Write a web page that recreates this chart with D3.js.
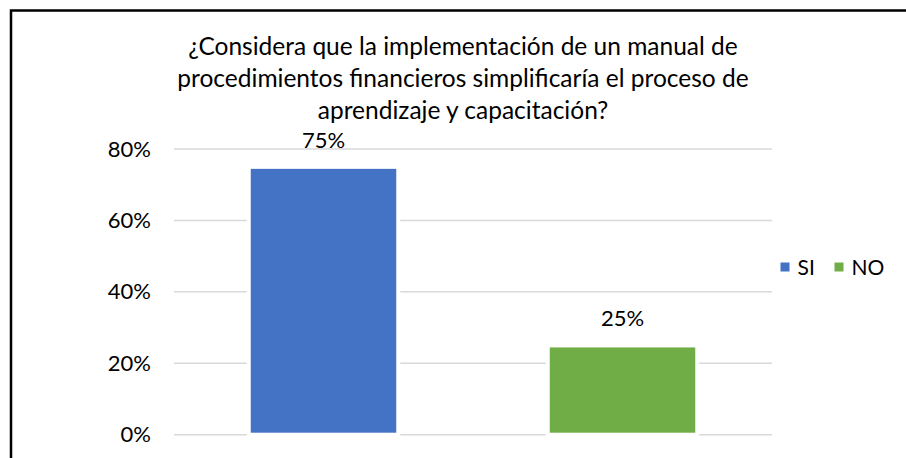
<!DOCTYPE html>
<html>
<head>
<meta charset="utf-8">
<script src="https://cdn.jsdelivr.net/npm/d3@7"></script>
<style>
  body { margin: 0; background: #fff; }
  text { font-family: Lato, "Open Sans", sans-serif; fill: #000; }
</style>
</head>
<body>
<div class="chart-canvas"></div>
<script>
// chart data
const categories = ['SI', 'NO'];
const values = [0.75, 0.25];
const colors = ['#4472C4', '#70AD47'];
const yTicks = [0, 0.2, 0.4, 0.6, 0.8];
const titleLines = [
    '¿Considera que la implementación de un manual de',
    'procedimientos financieros simplificaría el proceso de',
    'aprendizaje y capacitación?'
];

//dimensions
const dims = { width: 906, height: 458 };
const plot = { left: 174, right: 772, top: 149, bottom: 434.7 };

const svg = d3.select('.chart-canvas')
    .append('svg')
    .attr('width', dims.width)
    .attr('height', dims.height);

// outer frame
svg.append('rect')
    .attr('x', 11).attr('y', 10.5)
    .attr('width', 910).attr('height', 470)
    .attr('fill', '#fff')
    .attr('stroke', '#000')
    .attr('stroke-width', 2.5);

// title
svg.append('g')
    .selectAll('text')
    .data(titleLines)
    .enter()
    .append('text')
        .attr('x', 463)
        .attr('y', (d, i) => 55 + i * 32)
        .attr('text-anchor', 'middle')
        .attr('font-size', 24.5)
        .text(d => d);

// scales
const x = d3.scaleBand()
    .domain(categories)
    .range([plot.left, plot.right])
    .paddingInner(0.5)
    .paddingOuter(0.25);

const y = d3.scaleLinear()
    .domain([0, 0.8])
    .range([plot.bottom, plot.top]);

const fmt = d3.format('.0%');

// gridlines
svg.append('g')
    .selectAll('line')
    .data(yTicks)
    .enter()
    .append('line')
        .attr('x1', plot.left).attr('x2', plot.right)
        .attr('y1', d => y(d)).attr('y2', d => y(d))
        .attr('stroke', '#d9d9d9')
        .attr('stroke-width', 1.5);

// y axis labels
svg.append('g')
    .selectAll('text')
    .data(yTicks)
    .enter()
    .append('text')
        .attr('x', 151)
        .attr('y', d => y(d) + 7.5)
        .attr('text-anchor', 'end')
        .attr('font-size', 22)
        .text(d => fmt(d));

// bars
const data = categories.map((c, i) => ({ name: c, value: values[i], color: colors[i] }));

svg.append('g')
    .selectAll('rect')
    .data(data)
    .enter()
    .append('rect')
        .attr('x', d => x(d.name))
        .attr('y', d => y(d.value))
        .attr('width', x.bandwidth())
        .attr('height', d => y(0) - y(d.value))
        .attr('fill', d => d.color)
        .attr('stroke', '#fff')
        .attr('stroke-width', 4);

// value labels
svg.append('g')
    .selectAll('text')
    .data(data)
    .enter()
    .append('text')
        .attr('x', d => x(d.name) + x.bandwidth() / 2)
        .attr('y', d => y(d.value) - 19)
        .attr('text-anchor', 'middle')
        .attr('font-size', 22)
        .text(d => fmt(d.value));

// legend
const legend = svg.append('g')
    .selectAll('g')
    .data(data)
    .enter()
    .append('g')
        .attr('transform', (d, i) => `translate(${780.5 + i * 54}, 262.5)`);

legend.append('rect')
    .attr('width', 9).attr('height', 9)
    .attr('fill', d => d.color);

legend.append('text')
    .attr('x', 17)
    .attr('y', 12.5)
    .attr('font-size', 21)
    .text(d => d.name);
</script>
</body>
</html>
